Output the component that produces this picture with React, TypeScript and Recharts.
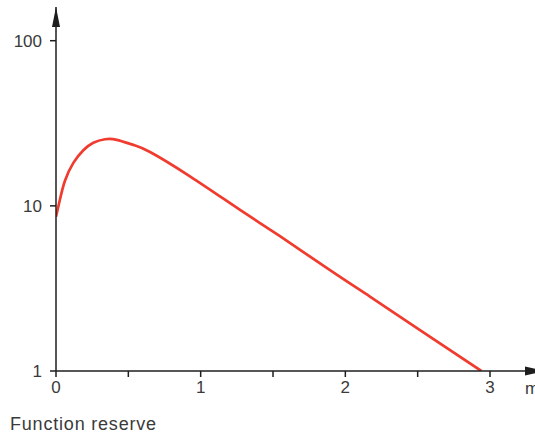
import React from 'react';
import { LineChart, Line, XAxis, YAxis, ReferenceDot } from 'recharts';

const xValues = [0, 0.028, 0.062, 0.12, 0.189, 0.258, 0.339, 0.42, 0.534, 0.65, 0.926, 1.272, 1.548, 1.894, 2.17, 2.516, 2.94];
const reserveValues = [8.6, 11.0, 14.2, 18.2, 21.7, 24.1, 25.3, 25.1, 23.4, 21.2, 15.1, 9.46, 6.55, 4.08, 2.82, 1.77, 1.0];
const xTicks = [0, 0.5, 1, 1.5, 2, 2.5, 3];
const yTicks = [1, 10, 100];
const xMax = 3.311;
const yMax = 160;
const xUnit = 'm';
const caption = 'Function reserve';

const data = xValues.map((x, i) => ({ x, v: reserveValues[i] }));

const AXIS = '#1e1e1e';
const TEXT = '#3a3a3a';
const FONT = '"Liberation Sans", Arial, Helvetica, sans-serif';

const UpArrow = (props: any) => {
  const { cx, cy } = props;
  return <polygon points={`${cx},${cy} ${cx - 4},${cy + 20} ${cx + 4},${cy + 20}`} fill={AXIS} />;
};

const RightArrow = (props: any) => {
  const { cx, cy } = props;
  return (
    <g>
      <polygon points={`${cx + 10},${cy} ${cx - 10},${cy - 4.5} ${cx - 10},${cy + 4.5}`} fill={AXIS} />
      <text x={cx - 10} y={cy + 23} fill={TEXT} fontSize={17} fontFamily={FONT}>{xUnit}</text>
    </g>
  );
};

export default function App() {
  return (
    <div style={{ position: 'absolute', left: 0, top: 0, width: 535, height: 436, background: '#fff' }}>
      <LineChart width={535} height={436} data={data} margin={{ top: 7, right: 0, bottom: 0, left: 0 }}>
        <XAxis
          dataKey="x"
          type="number"
          domain={[0, xMax]}
          ticks={xTicks}
          tickFormatter={(v: number) => (Number.isInteger(v) ? String(v) : '')}
          height={65}
          axisLine={{ stroke: AXIS, strokeWidth: 1.5 }}
          tickLine={{ stroke: AXIS, strokeWidth: 1.5 }}
          tickSize={6}
          tickMargin={4}
          tick={{ fill: TEXT, fontSize: 17, fontFamily: FONT }}
          allowDataOverflow
        />
        <YAxis
          type="number"
          scale="log"
          domain={[1, yMax]}
          ticks={yTicks}
          width={56}
          axisLine={{ stroke: AXIS, strokeWidth: 1.5 }}
          tickLine={{ stroke: AXIS, strokeWidth: 1.5 }}
          tickSize={6}
          tickMargin={8}
          tick={{ fill: TEXT, fontSize: 17, fontFamily: FONT }}
          allowDataOverflow
        />
        <Line
          type="natural"
          dataKey="v"
          stroke="#f03c2e"
          strokeWidth={2.7}
          dot={false}
          activeDot={false}
          isAnimationActive={false}
        />
        <ReferenceDot x={0} y={yMax} ifOverflow="visible" shape={UpArrow} />
        <ReferenceDot x={xMax} y={1} ifOverflow="visible" shape={RightArrow} />
      </LineChart>
      <div
        style={{
          position: 'absolute',
          left: 10,
          top: 414,
          fontFamily: FONT,
          fontSize: 18,
          letterSpacing: 0.8,
          color: TEXT,
          lineHeight: '20px',
          whiteSpace: 'nowrap',
        }}
      >
        {caption}
      </div>
    </div>
  );
}
